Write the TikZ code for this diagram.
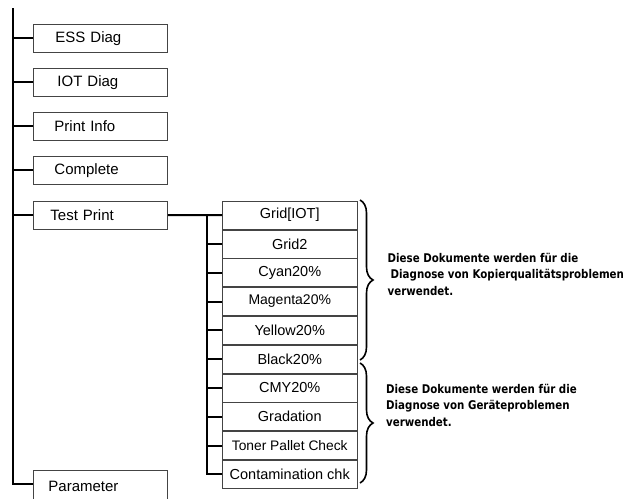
\documentclass[tikz,border=0pt]{standalone}
\usepackage{fontspec}
\setmainfont{Liberation Sans}
\newfontfamily\notefont{DejaVu Sans}[FakeStretch=0.855]
\usetikzlibrary{decorations.pathreplacing}
\definecolor{boxgray}{HTML}{444444}
\begin{document}
\begin{tikzpicture}[x=1pt,y=-1pt,
  leftbox/.style={draw=boxgray, line width=0.9pt, minimum height=28pt, text width=130pt,
    inner xsep=2pt, inner ysep=0pt, align=left, font=\fontsize{15}{18}\selectfont, anchor=north west},
  stackbox/.style={draw=boxgray, line width=0.8pt, minimum width=134.7pt, minimum height=28pt,
    inner sep=0pt, font=\fontsize{14.5}{17}\selectfont, anchor=north west},
  conn/.style={line width=2pt, black},
  bracestyle/.style={line width=1.6pt, decorate, decoration={brace, amplitude=13pt}},
  note/.style={align=left, inner sep=0pt, anchor=west, font=\notefont\bfseries\fontsize{12}{16.5}\selectfont}
]
\useasboundingbox (0,0) rectangle (631,498);

\node[leftbox] (ess) at (33,24) {\hspace*{20pt}ESS Diag};
\node[leftbox] (iot) at (33,68) {\hspace*{22pt}IOT Diag};
\node[leftbox] (info) at (33,112) {\hspace*{19pt}Print Info};
\node[leftbox] (compl) at (33,156) {\hspace*{19pt}Complete};
\node[leftbox] (tp) at (33,200.7) {\hspace*{15pt}Test Print};
\node[leftbox, minimum height=32pt] (param) at (33,470) {\hspace*{13pt}Parameter};

\node[stackbox] (s1) at (222,200.7) {Grid[IOT]};
\node[stackbox] (s2) at (s1.south west) {Grid2};
\node[stackbox] (s3) at (s2.south west) {Cyan20\%};
\node[stackbox] (s4) at (s3.south west) {\fontsize{14}{17}\selectfont Magenta20\%};
\node[stackbox] (s5) at (s4.south west) {Yellow20\%};
\node[stackbox] (s6) at (s5.south west) {Black20\%};
\node[stackbox] (s7) at (s6.south west) {CMY20\%};
\node[stackbox] (s8) at (s7.south west) {Gradation};
\node[stackbox] (s9) at (s8.south west) {\fontsize{13.8}{17}\selectfont Toner Pallet Check};
\node[stackbox] (s10) at (s9.south west) {Contamination chk};

\coordinate (mtop) at (13,8);
\coordinate (mbot) at (13,484);
\draw[conn] (mtop) -- (mbot) -- (mbot -| param.west);
\foreach \n in {ess,iot,info,compl,tp} \draw[conn] (\n.west) -- (\n.west -| mtop);

\draw[conn] (tp.east) -- (s1.west);
\coordinate (vx) at (207,0);
\draw[conn] (s1.west -| vx) |- (s10.west);
\foreach \i in {2,...,9} \draw[conn] (s\i.west -| vx) -- (s\i.west);

\coordinate (b1t) at (360,200);
\coordinate (b1b) at (360,360);
\coordinate (b2t) at (360,363);
\coordinate (b2b) at (360,483);
\draw[bracestyle] (b1t) -- (b1b);
\draw[bracestyle] (b2t) -- (b2b);

\node[note] (n1) at (387.5,274) {Diese Dokumente werden f\"ur die\\\hspace*{3pt}Diagnose von Kopierqualit\"atsproblemen\\verwendet.};
\node[note] (n2) at (386,405) {Diese Dokumente werden f\"ur die\\Diagnose von Ger\"ateproblemen\\verwendet.};
\end{tikzpicture}
\end{document}
